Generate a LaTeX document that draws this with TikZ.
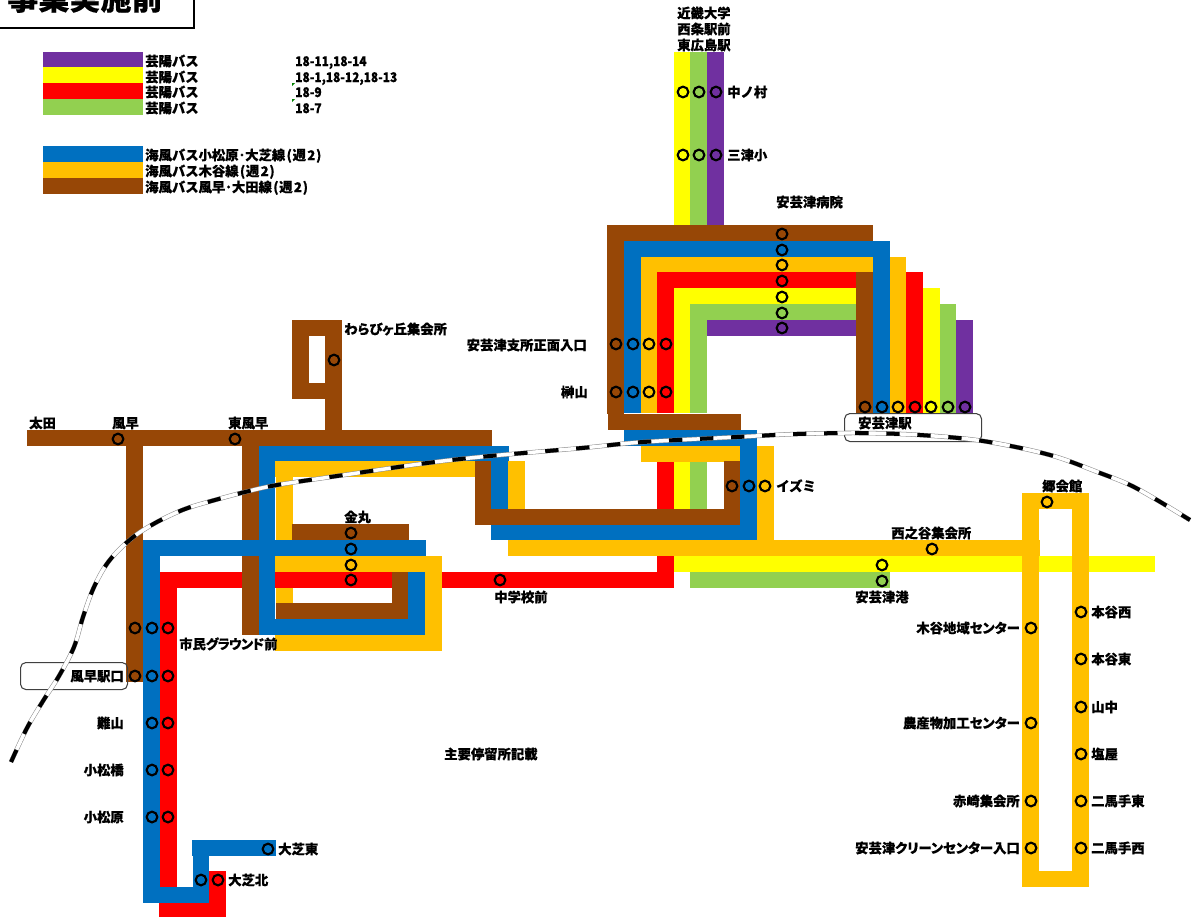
\documentclass[tikz,border=0pt]{standalone}
\usepackage{fontspec}
\setmainfont{Noto Sans CJK JP}[BoldFeatures={FakeBold=0.35}]
\newfontfamily\numfont{Noto Sans CJK JP}[FakeStretch=0.895,BoldFeatures={FakeBold=0.35}]
\definecolor{prp}{HTML}{7030A0}
\definecolor{yel}{HTML}{FFFF00}
\definecolor{rd}{HTML}{FF0000}
\definecolor{grn}{HTML}{92D050}
\definecolor{blu}{HTML}{0070C0}
\definecolor{org}{HTML}{FFC000}
\definecolor{brn}{HTML}{974706}
\newcount\nodenum
\tikzset{
  stopmark/.style={circle,draw=black,line width=1.6pt,minimum size=8pt,inner sep=0pt},
  lab/.style={inner sep=0pt,font=\bfseries\fontsize{10}{12}\selectfont,text height=8.8pt,text depth=1.2pt},
  stationbox/.style={draw=black!75,line width=0.8pt,rounded corners=4pt},
}
% R{colour}{x1}{y1}{x2}{y2}: straight piece of a route
\newcommand\R[5]{\fill[#1] (#2,#3) rectangle (#4,#5);}
\newcommand\ST[2]{\global\advance\nodenum by 1 \node[stopmark] (s\the\nodenum) at (#1,#2) {};}
\newcommand\LW[3]{\global\advance\nodenum by 1 \node[lab,anchor=west] (t\the\nodenum) at (#1,#2) {#3};}
\newcommand\LE[3]{\global\advance\nodenum by 1 \node[lab,anchor=east] (t\the\nodenum) at (#1,#2) {#3};}
\newcommand\PK[1]{{\addfontfeature{RawFeature=+palt}#1}}
\newcommand\PN[1]{{\addfontfeature{RawFeature=+palt,LetterSpace=-6}#1}}
\newcommand\WK{\kern1pt(\kern.5pt週\kern1pt2\kern.5pt)}
\begin{document}
\begin{tikzpicture}[x=0.75pt,y=-0.75pt]
\useasboundingbox (0,0) rectangle (1194,917);
% title
\draw[black,line width=1.6pt] (-5,28) -- (194,28) -- (194,-5);
\node[inner sep=0pt,anchor=west,font=\bfseries\fontsize{23.3}{26}\selectfont] (title) at (7,-2) {事業実施前};
% legend
\R{prp}{43}{52}{143}{67}
\R{yel}{43}{67}{143}{83}
\R{rd}{43}{83}{143}{99}
\R{grn}{43}{99}{143}{115}
\R{blu}{43}{146}{143}{162}
\R{org}{43}{162}{143}{178}
\R{brn}{43}{178}{143}{194}
\LW{145}{61}{芸陽バス}
\LW{145}{77}{芸陽バス}
\LW{145}{92}{芸陽バス}
\LW{145}{108}{芸陽バス}
\LW{295}{61}{\numfont 18-11,18-14}
\LW{295}{77}{\numfont 18-1,18-12,18-13}
\LW{295}{92}{\numfont 18-9}
\LW{295}{108}{\numfont 18-7}
\LW{145}{155}{海風バス小松原･大芝線\WK}
\LW{145}{171}{海風バス木谷線\WK}
\LW{145}{187}{海風バス風早･大田線\WK}
\fill[green!50!black] (292,83) -- (295,83) -- (292,86) -- cycle;
\fill[green!50!black] (292,99) -- (295,99) -- (292,102) -- cycle;
% lower layer
\R{org}{276}{461}{293}{604}
\R{grn}{690}{52}{707}{225}
\R{yel}{674}{52}{690}{225}
\R{prp}{707}{52}{724}{225}
\R{grn}{690}{304}{856}{320}
\R{grn}{690}{304}{707}{413}
\R{grn}{939}{304}{956}{413}
\R{grn}{690}{461}{707}{588}
\R{grn}{690}{572}{890}{588}
\R{yel}{674}{288}{856}{304}
\R{yel}{674}{288}{690}{413}
\R{yel}{923}{288}{940}{413}
\R{yel}{674}{461}{690}{572}
\R{yel}{674}{556}{1155}{572}
\R{prp}{707}{320}{856}{336}
\R{prp}{956}{320}{973}{413}
\R{rd}{657}{272}{856}{288}
\R{rd}{657}{272}{674}{413}
\R{rd}{906}{272}{923}{413}
\R{rd}{657}{461}{674}{588}
\R{rd}{159}{572}{660}{588}
\R{rd}{160}{572}{177}{888}
\R{rd}{209}{871}{226}{917}
\R{rd}{159}{903}{226}{917}
% orange
\R{org}{640}{257}{873}{272}
\R{org}{641}{257}{657}{413}
\R{org}{889}{257}{906}{413}
\R{org}{641}{446}{774}{462}
\R{org}{757}{446}{774}{556}
\R{org}{508}{540}{1040}{556}
\R{org}{508}{461}{525}{556}
\R{org}{275}{461}{476}{477}
\R{org}{275}{556}{442}{572}
\R{org}{425}{556}{442}{651}
\R{org}{275}{635}{442}{651}
\R{org}{1022}{493}{1089}{509}
\R{org}{1022}{493}{1039}{887}
\R{org}{1072}{493}{1089}{887}
\R{org}{1022}{871}{1089}{887}
% brown
\R{brn}{607}{225}{873}{241}
\R{brn}{607}{225}{624}{414}
\R{brn}{856}{272}{873}{413}
\R{brn}{608}{414}{741}{430}
\R{brn}{724}{461}{740}{525}
\R{brn}{475}{509}{740}{525}
\R{brn}{475}{461}{491}{525}
\R{brn}{27}{430}{492}{446}
\R{brn}{126}{446}{143}{682}
\R{brn}{242}{446}{259}{635}
\R{brn}{325}{320}{342}{430}
\R{brn}{292}{320}{342}{336}
\R{brn}{292}{320}{309}{399}
\R{brn}{292}{383}{342}{399}
\R{brn}{292}{524}{409}{540}
\R{brn}{392}{572}{408}{619}
\R{brn}{276}{603}{408}{619}
% blue
\R{blu}{624}{241}{890}{257}
\R{blu}{624}{241}{641}{413}
\R{blu}{873}{241}{890}{413}
\R{blu}{624}{430}{757}{446}
\R{blu}{740}{446}{757}{540}
\R{blu}{491}{525}{757}{540}
\R{blu}{491}{446}{508}{509}
\R{blu}{259}{446}{509}{461}
\R{blu}{259}{446}{275}{635}
\R{blu}{143}{540}{426}{556}
\R{blu}{259}{619}{425}{635}
\R{blu}{408}{572}{425}{635}
\R{blu}{143}{540}{160}{903}
\R{blu}{143}{887}{209}{903}
\R{blu}{193}{840}{209}{903}
\R{blu}{192}{840}{276}{856}
% station boxes
\node[stationbox,anchor=north west,minimum width=102.75pt,minimum height=21pt,inner sep=0pt] (aki) at (844,413) {};
\node[stationbox,anchor=north west,minimum width=80.25pt,minimum height=20.25pt,inner sep=0pt] (kaza) at (20,662) {};
% railway
\def\railpath{plot[smooth,tension=0.55] coordinates {(11,762) (27,728) (43,701) (59,676) (74,647) (83,617) (94,587) (109,561) (132,538) (157,522) (185,509) (215,500) (245,492) (277,485) (337,476) (427,463) (490,456) (582,448) (643,442) (737,437) (797,434) (860,433) (920,435) (983,441) (1050,455) (1100,473) (1130,485) (1157,500) (1190,520)}}
\draw[black!45,line width=3.4pt] \railpath;
\draw[white,line width=2.6pt] \railpath;
\draw[black,line width=3pt,dash pattern=on 10pt off 13.3pt] \railpath;
% stops
\foreach \y in {92,155}{\foreach \x in {683,699,716}{\ST{\x}{\y}}}
\foreach \y in {234,250,265,281,297,313,328}{\ST{782}{\y}}
\foreach \y in {344,392}{\foreach \x in {616,633,649,666}{\ST{\x}{\y}}}
\foreach \x in {865,882,898,915,931,948,965}{\ST{\x}{407}}
\foreach \x in {732,749,765}{\ST{\x}{486}}
\ST{334}{360}
\ST{118}{439}
\ST{235}{439}
\foreach \y in {533,549,565,580}{\ST{351}{\y}}
\ST{500}{580}
\ST{932}{549}
\ST{1047}{502}
\ST{882}{565}
\ST{882}{581}
\foreach \y in {628,676}{\ST{135}{\y}}
\foreach \y in {628,676,723,770,817}{\ST{152}{\y}\ST{168}{\y}}
\ST{268}{849}
\ST{201}{880}
\ST{218}{880}
\foreach \y in {628,723,801,848}{\ST{1031}{\y}}
\foreach \y in {612,659,707,754,801,848}{\ST{1081}{\y}}
% labels
\LW{677}{13}{近畿大学}
\LW{677}{29}{西条駅前}
\LW{677}{45}{東広島駅}
\LW{727}{92}{中ノ村}
\LW{727}{155}{三津小}
\LW{776}{202}{安芸津病院}
\LE{587}{345}{安芸津支所正面入口}
\LE{588}{392}{榊山}
\LW{858}{423}{安芸津駅}
\LW{776}{486}{イズミ}
\LW{344}{329}{\PK{わらびヶ丘}集会所}
\LW{29}{423}{太田}
\LW{112}{423}{風早}
\LW{228}{423}{東風早}
\LW{344}{517}{金丸}
\LW{494}{597}{中学校前}
\LW{891}{533}{西之谷集会所}
\LW{1042}{486}{郷会館}
\LW{855}{597}{安芸津港}
\LW{179}{644}{市民\PN{グラウンド}前}
\LE{124}{676}{風早駅口}
\LE{124}{723}{難山}
\LE{124}{770}{小松橋}
\LE{124}{817}{小松原}
\LW{278}{849}{大芝東}
\LW{228}{880}{大芝北}
\LW{444}{754}{主要停留所記載}
\LE{1020}{628}{木谷地域\PK{センター}}
\LE{1020}{723}{農産物加工\PK{センター}}
\LE{1020}{801}{赤崎集会所}
\LE{1020}{848}{安芸津\PK{クリーンセンター}入口}
\LW{1091}{612}{本谷西}
\LW{1091}{659}{本谷東}
\LW{1091}{707}{山中}
\LW{1091}{754}{塩屋}
\LW{1091}{801}{二馬手東}
\LW{1091}{848}{二馬手西}
\end{tikzpicture}
\end{document}
